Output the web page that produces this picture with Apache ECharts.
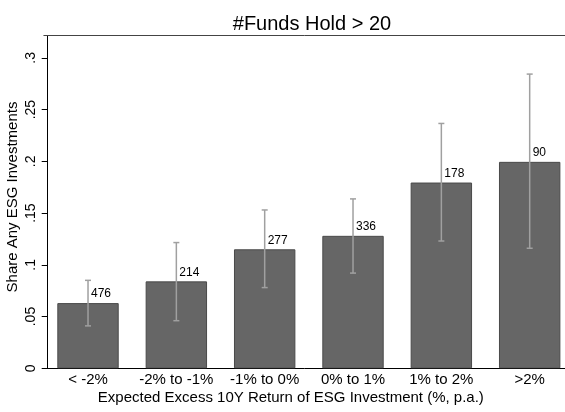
<!DOCTYPE html>
<html>
<head>
<meta charset="utf-8">
<script src="https://cdn.jsdelivr.net/npm/echarts@6/dist/echarts.min.js"></script>
<style>
html, body { margin: 0; padding: 0; background: #fff; }
#chart { width: 565px; height: 412px; }
</style>
</head>
<body>
<div id="chart"></div>
<script>
var categories = ['< -2%', '-2% to -1%', '-1% to 0%', '0% to 1%', '1% to 2%', '>2%'];
var shares = [0.063, 0.084, 0.115, 0.128, 0.1795, 0.1995];
var ciLow = [0.041, 0.046, 0.078, 0.092, 0.123, 0.116];
var ciHigh = [0.085, 0.1215, 0.153, 0.1637, 0.2366, 0.2843];
var counts = [476, 214, 277, 336, 178, 90];
var yTicks = [0, 0.05, 0.1, 0.15, 0.2, 0.25, 0.3];

var font = 'Liberation Sans, Arial, sans-serif';

function fmt(v) {
    if (v === 0) return '0';
    return String(+v.toFixed(2)).replace(/^0/, '');
}

var chart = echarts.init(document.getElementById('chart'), null, { renderer: 'canvas' });

var errData = categories.map(function (c, i) { return [i, ciLow[i], ciHigh[i]]; });

chart.setOption({
    animation: false,
    title: {
        text: '#Funds Hold > 20',
        left: 307,
        textAlign: 'center',
        top: 9,
        textStyle: { fontFamily: font, fontSize: 20, fontWeight: 'normal', color: '#000' }
    },
    grid: { left: 43.85, right: -8.85, top: 35.7, bottom: 43.7, outerBoundsMode: 'none', containLabel: false },
    xAxis: [{
        type: 'category',
        data: categories,
        axisTick: { show: false },
        axisLine: { lineStyle: { color: '#000', width: 1 } },
        axisLabel: { fontFamily: font, fontSize: 15, color: '#000', margin: 4, interval: 0 },
        name: 'Expected Excess 10Y Return of ESG Investment (%, p.a.)',
        nameLocation: 'middle',
        nameGap: 22,
        nameMoveOverlap: false,
        nameTextStyle: { fontFamily: font, fontSize: 15, color: '#000', padding: [0, 36, 0, 0] }
    }, {
        type: 'category',
        position: 'top',
        data: categories,
        axisTick: { show: false },
        axisLabel: { show: false },
        axisLine: { lineStyle: { color: '#444', width: 1 } }
    }],
    yAxis: {
        type: 'value',
        min: 0,
        max: 0.3214,
        interval: 0.05,
        offset: -3.85,
        splitLine: { show: false },
        axisLine: { show: true, lineStyle: { color: '#000', width: 1 } },
        axisTick: { show: true, length: 6, lineStyle: { color: '#000' }, customValues: yTicks },
        axisLabel: {
            rotate: 90, fontFamily: font, fontSize: 14, color: '#000', margin: 10,
            customValues: yTicks, formatter: fmt
        },
        name: 'Share Any ESG Investments',
        nameLocation: 'middle',
        nameGap: 27,
        nameMoveOverlap: false,
        nameTextStyle: { fontFamily: font, fontSize: 15, color: '#000', padding: [0, 0, 0, 10] }
    },
    series: [{
        type: 'bar',
        data: shares,
        barWidth: 61.4,
        itemStyle: { color: '#666666', borderColor: '#4a4a4a', borderWidth: 1 },
        label: {
            show: true,
            position: 'top',
            align: 'left',
            distance: 3,
            offset: [3, 0],
            fontFamily: font,
            fontSize: 12,
            color: '#000',
            formatter: function (p) { return counts[p.dataIndex]; }
        },
        z: 2
    }, {
        type: 'custom',
        data: errData,
        z: 3,
        renderItem: function (params, api) {
            var lo = api.coord([api.value(0), api.value(1)]);
            var hi = api.coord([api.value(0), api.value(2)]);
            var w = 3;
            var st = { stroke: '#a0a0a0', lineWidth: 1.5 };
            return {
                type: 'group',
                children: [
                    { type: 'line', shape: { x1: hi[0], y1: hi[1], x2: lo[0], y2: lo[1] }, style: st },
                    { type: 'line', shape: { x1: hi[0] - w, y1: hi[1], x2: hi[0] + w, y2: hi[1] }, style: st },
                    { type: 'line', shape: { x1: lo[0] - w, y1: lo[1], x2: lo[0] + w, y2: lo[1] }, style: st }
                ]
            };
        }
    }]
});
</script>
</body>
</html>
